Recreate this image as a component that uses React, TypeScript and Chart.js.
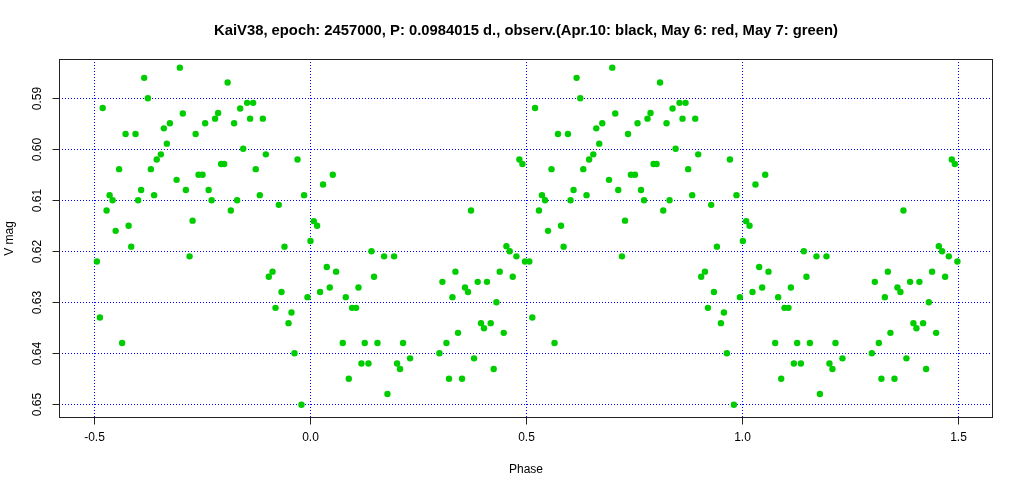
import React, { useEffect, useRef } from "react";
import { Chart, registerables } from "chart.js";

Chart.register(...registerables);

const TITLE =
  "KaiV38, epoch: 2457000, P: 0.0984015 d., observ.(Apr.10: black, May 6: red, May 7: green)";
const X_TITLE = "Phase";
const Y_TITLE = "V mag";

const X_TICKS = [-0.5, 0, 0.5, 1, 1.5];
const X_TICK_LABELS = ["-0.5", "0.0", "0.5", "1.0", "1.5"];
const Y_TICKS = [0.59, 0.6, 0.61, 0.62, 0.63, 0.64, 0.65];
const Y_TICK_LABELS = ["0.59", "0.60", "0.61", "0.62", "0.63", "0.64", "0.65"];

// folded observations: phase in [0,1), V magnitude
const PHASE = [
  0.6995, 0.617, 0.6255, 0.521, 0.7064, 0.788, 0.781, 0.758, 0.6764, 0.6625,
  0.574, 0.597, 0.736, 0.6694, 0.6556, 0.646, 0.559, 0.6325, 0.7427, 0.752,
  0.692, 0.537, 0.61, 0.7134, 0.766, 0.544, 0.603, 0.64, 0.773, 0.53,
  0.729, 0.551, 0.581, 0.81, 0.855, 0.869, 0.839, 0.825, 0.862, 0.8914,
  0.846, 0.8983, 0.9716, 0.795, 0.802, 0.875, 0.0532, 0.0307, 0.8844, 0.9868,
  0.832, 0.8174, 0.9283, 0.0092, 0.0169, 0.0016, 0.4847, 0.4917, 0.3729, 0.587,
  0.5076, 0.722, 0.5146, 0.566, 0.9415, 0.1426, 0.9138, 0.9052, 0.0393, 0.0608,
  0.1486, 0.9346, 0.9947, 0.0238, 0.0462, 0.1126, 0.0832, 0.9207, 0.9577, 0.9508,
  0.0978, 0.107, 0.0763, 0.1271, 0.9646, 0.1195, 0.1357, 0.0902, 0.9808, 0.1718,
  0.1949, 0.4547, 0.4623, 0.4778, 0.4977, 0.3368, 0.3067, 0.359, 0.3659, 0.3883,
  0.4098, 0.4392, 0.4693, 0.3299, 0.4316, 0.396, 0.4184, 0.4029, 0.3428, 0.4485,
  0.1565, 0.2157, 0.316, 0.2998, 0.3798, 0.2018, 0.2087, 0.2319, 0.4253, 0.322,
  0.3521, 0.1796,
];
const VMAG = [
  0.584, 0.586, 0.59, 0.5919, 0.593, 0.5929, 0.594, 0.5949, 0.5949, 0.5959,
  0.597, 0.597, 0.597, 0.5989, 0.601, 0.602, 0.6039, 0.6039, 0.605, 0.605,
  0.606, 0.609, 0.608, 0.608, 0.608, 0.61, 0.61, 0.609, 0.61, 0.612,
  0.614, 0.616, 0.615, 0.5869, 0.5909, 0.5909, 0.592, 0.5949, 0.594, 0.594,
  0.5999, 0.601, 0.602, 0.6029, 0.6029, 0.6039, 0.605, 0.6069, 0.609, 0.609,
  0.61, 0.612, 0.6109, 0.6141, 0.615, 0.618, 0.602, 0.6029, 0.612, 0.6191,
  0.622, 0.621, 0.633, 0.638, 0.6191, 0.62, 0.624, 0.625, 0.6231, 0.624,
  0.625, 0.628, 0.629, 0.628, 0.6271, 0.6271, 0.629, 0.6311, 0.632, 0.6341,
  0.6311, 0.6311, 0.638, 0.638, 0.64, 0.642, 0.642, 0.645, 0.6501, 0.621,
  0.621, 0.619, 0.62, 0.621, 0.622, 0.624, 0.626, 0.6271, 0.628, 0.626,
  0.626, 0.624, 0.625, 0.629, 0.63, 0.6341, 0.6341, 0.6351, 0.636, 0.636,
  0.638, 0.638, 0.638, 0.64, 0.641, 0.642, 0.6431, 0.641, 0.6431, 0.645,
  0.645, 0.648,
];

const X_MIN = -0.58;
const X_MAX = 1.58;
const Y_TOP = 0.5823;
const Y_BOTTOM = 0.6527;

const FONT = '"Liberation Sans", Arial, sans-serif';

const rAxesPlugin = {
  id: "rAxes",
  beforeDatasetsDraw(chart: any) {
    const { ctx, chartArea } = chart;
    const xs = chart.scales.x;
    const ys = chart.scales.y;
    ctx.save();
    ctx.strokeStyle = "#0000ff";
    ctx.lineWidth = 1;
    ctx.setLineDash([1, 2]);
    X_TICKS.forEach((v) => {
      const px = Math.round(xs.getPixelForValue(v)) + 0.5;
      ctx.beginPath();
      ctx.moveTo(px, chartArea.top);
      ctx.lineTo(px, chartArea.bottom);
      ctx.stroke();
    });
    Y_TICKS.forEach((v) => {
      const py = Math.round(ys.getPixelForValue(v)) + 0.5;
      ctx.beginPath();
      ctx.moveTo(chartArea.left, py);
      ctx.lineTo(chartArea.right, py);
      ctx.stroke();
    });
    ctx.restore();
  },
  afterDraw(chart: any) {
    const { ctx, chartArea } = chart;
    const xs = chart.scales.x;
    const ys = chart.scales.y;
    ctx.save();
    ctx.setLineDash([]);
    ctx.strokeStyle = "#222222";
    ctx.lineWidth = 1;
    const L = Math.round(chartArea.left) + 0.5;
    const R = Math.round(chartArea.right) - 0.5;
    const T = Math.round(chartArea.top) + 0.5;
    const B = Math.round(chartArea.bottom) - 0.5;
    ctx.strokeRect(L, T, R - L, B - T);

    ctx.fillStyle = "#000000";
    ctx.font = `12px ${FONT}`;
    ctx.textAlign = "center";
    ctx.textBaseline = "middle";
    X_TICKS.forEach((v, i) => {
      const px = Math.round(xs.getPixelForValue(v)) + 0.5;
      ctx.beginPath();
      ctx.moveTo(px, B);
      ctx.lineTo(px, B + 7);
      ctx.stroke();
      ctx.fillText(X_TICK_LABELS[i], px, 438);
    });
    Y_TICKS.forEach((v, i) => {
      const py = Math.round(ys.getPixelForValue(v)) + 0.5;
      ctx.beginPath();
      ctx.moveTo(L, py);
      ctx.lineTo(L - 7, py);
      ctx.stroke();
      ctx.save();
      ctx.translate(38, py);
      ctx.rotate(-Math.PI / 2);
      ctx.fillText(Y_TICK_LABELS[i], 0, 0);
      ctx.restore();
    });

    ctx.fillText(X_TITLE, (chartArea.left + chartArea.right) / 2, 470);
    ctx.save();
    ctx.translate(10, (chartArea.top + chartArea.bottom) / 2);
    ctx.rotate(-Math.PI / 2);
    ctx.fillText(Y_TITLE, 0, 0);
    ctx.restore();

    ctx.font = `bold 14.8px ${FONT}`;
    ctx.fillText(TITLE, (chartArea.left + chartArea.right) / 2, 31);
    ctx.restore();
  },
};

export default function App() {
  const canvasRef = useRef<HTMLCanvasElement | null>(null);

  useEffect(() => {
    document.body.style.margin = "0";
    const canvas = canvasRef.current;
    if (!canvas) return;
    const points: { x: number; y: number }[] = [];
    PHASE.forEach((p, i) => {
      [-1, 0, 1].forEach((k) => {
        const x = p + k;
        if (x >= -0.5 && x <= 1.5) points.push({ x, y: VMAG[i] });
      });
    });
    const chart = new Chart(canvas, {
      type: "scatter",
      data: {
        datasets: [
          {
            data: points,
            backgroundColor: "#00CD00",
            borderWidth: 0,
            pointRadius: 3.2,
            pointHoverRadius: 3.2,
          },
        ],
      },
      options: {
        responsive: false,
        animation: false,
        devicePixelRatio: 1,
        layout: { padding: { left: 59, right: 31, top: 59, bottom: 74 } },
        plugins: {
          legend: { display: false },
          tooltip: { enabled: false },
          title: { display: false },
        },
        scales: {
          x: { type: "linear", display: false, min: X_MIN, max: X_MAX },
          y: { type: "linear", display: false, min: Y_TOP, max: Y_BOTTOM, reverse: true },
        },
        events: [],
      },
      plugins: [rAxesPlugin],
    });
    return () => chart.destroy();
  }, []);

  return (
    <div style={{ position: "fixed", left: 0, top: 0, width: 1024, height: 492, background: "#ffffff" }}>
      <canvas ref={canvasRef} width={1024} height={492} style={{ width: 1024, height: 492 }} />
    </div>
  );
}
